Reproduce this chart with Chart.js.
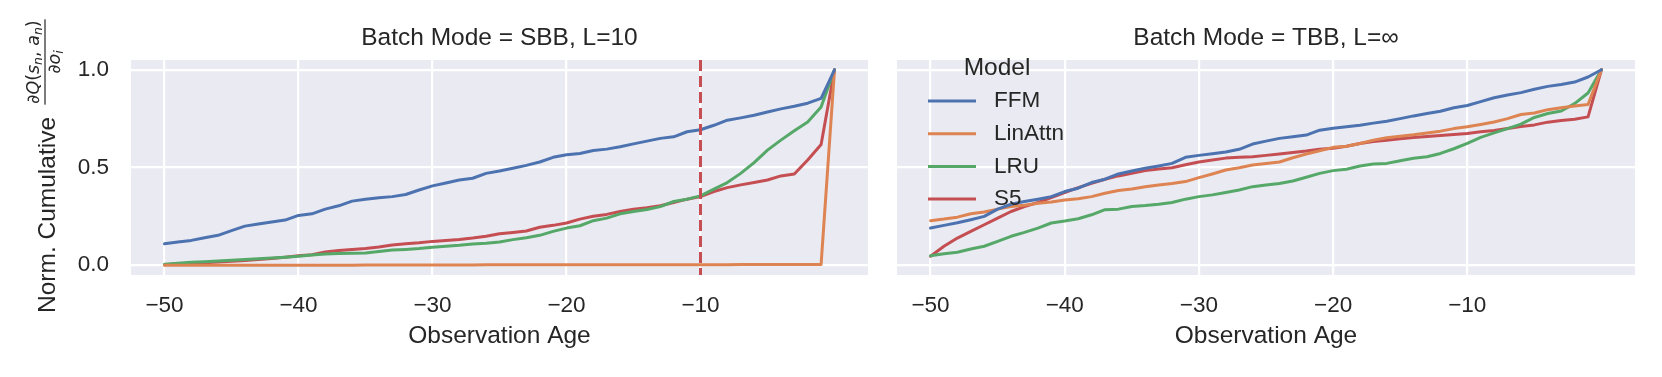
<!DOCTYPE html>
<html>
<head>
<meta charset="utf-8">
<script src="https://cdn.jsdelivr.net/npm/chart.js@4/dist/chart.umd.min.js"></script>
<style>
  html, body { margin: 0; padding: 0; background: #fff; }
  #wrap { position: relative; width: 1662px; height: 377px; }
  #sbb { position: absolute; left: 0; top: 0; }
  #tbb { position: absolute; left: 880px; top: 0; }
</style>
</head>
<body>
<div id="wrap">
  <canvas id="sbb" width="880" height="377"></canvas>
  <canvas id="tbb" width="782" height="377"></canvas>
</div>
<script>
// --- data ---
const ages = [-50, -49, -48, -47, -46, -45, -44, -43, -42, -41, -40, -39, -38, -37, -36, -35, -34,
  -33, -32, -31, -30, -29, -28, -27, -26, -25, -24, -23, -22, -21, -20, -19, -18, -17, -16, -15,
  -14, -13, -12, -11, -10, -9, -8, -7, -6, -5, -4, -3, -2, -1, 0];
const xTicks = [-50, -40, -30, -20, -10];
const yTicks = [0, 0.5, 1];
const models = ['FFM', 'LinAttn', 'LRU', 'S5'];
const sbbCutoff = -10; // L=10

// Batch Mode = SBB, L=10
const sbbFFM = [0.110, 0.119, 0.127, 0.141, 0.153, 0.177, 0.200, 0.211, 0.221, 0.231, 0.255, 0.263,
  0.287, 0.304, 0.328, 0.338, 0.345, 0.351, 0.362, 0.385, 0.406, 0.421, 0.436, 0.445, 0.470, 0.482,
  0.496, 0.511, 0.528, 0.552, 0.565, 0.572, 0.587, 0.594, 0.606, 0.621, 0.635, 0.649, 0.657, 0.683,
  0.693, 0.716, 0.742, 0.754, 0.767, 0.784, 0.800, 0.813, 0.829, 0.854, 1.000];
const sbbLinAttn = [0.000, 0.000, 0.000, 0.000, 0.000, 0.000, 0.000, 0.000, 0.000, 0.000, 0.000,
  0.000, 0.000, 0.000, 0.000, 0.001, 0.001, 0.001, 0.001, 0.001, 0.001, 0.001, 0.001, 0.001, 0.002,
  0.002, 0.002, 0.002, 0.002, 0.002, 0.002, 0.002, 0.002, 0.002, 0.003, 0.003, 0.003, 0.003, 0.003,
  0.003, 0.003, 0.003, 0.003, 0.004, 0.004, 0.004, 0.004, 0.004, 0.004, 0.004, 1.000];
const sbbLRU = [0.005, 0.010, 0.015, 0.018, 0.022, 0.025, 0.029, 0.033, 0.037, 0.041, 0.046, 0.052,
  0.058, 0.060, 0.061, 0.063, 0.070, 0.078, 0.081, 0.085, 0.092, 0.097, 0.102, 0.109, 0.112, 0.119,
  0.131, 0.141, 0.153, 0.173, 0.190, 0.202, 0.228, 0.241, 0.263, 0.275, 0.285, 0.300, 0.326, 0.338,
  0.355, 0.389, 0.423, 0.470, 0.525, 0.589, 0.640, 0.688, 0.733, 0.810, 1.000];
const sbbS5 = [0.003, 0.007, 0.010, 0.013, 0.017, 0.020, 0.024, 0.029, 0.034, 0.041, 0.048, 0.054,
  0.068, 0.075, 0.081, 0.085, 0.093, 0.104, 0.110, 0.115, 0.122, 0.127, 0.132, 0.139, 0.148, 0.161,
  0.168, 0.175, 0.194, 0.204, 0.216, 0.236, 0.251, 0.260, 0.275, 0.287, 0.294, 0.304, 0.321, 0.338,
  0.351, 0.377, 0.397, 0.411, 0.423, 0.436, 0.457, 0.467, 0.538, 0.618, 1.000];

// Batch Mode = TBB, L=inf
const tbbFFM = [0.190, 0.204, 0.217, 0.233, 0.250, 0.287, 0.312, 0.326, 0.338, 0.351, 0.377, 0.394,
  0.423, 0.440, 0.467, 0.482, 0.496, 0.508, 0.521, 0.552, 0.562, 0.570, 0.579, 0.593, 0.620, 0.635,
  0.649, 0.657, 0.666, 0.691, 0.701, 0.708, 0.716, 0.727, 0.737, 0.750, 0.764, 0.776, 0.788, 0.806,
  0.817, 0.837, 0.857, 0.871, 0.883, 0.900, 0.915, 0.925, 0.937, 0.963, 1.000];
const tbbLinAttn = [0.228, 0.236, 0.246, 0.263, 0.272, 0.287, 0.300, 0.307, 0.317, 0.323, 0.334,
  0.340, 0.351, 0.368, 0.382, 0.390, 0.402, 0.411, 0.418, 0.428, 0.448, 0.467, 0.487, 0.499, 0.513,
  0.520, 0.528, 0.550, 0.569, 0.586, 0.603, 0.609, 0.623, 0.640, 0.652, 0.660, 0.667, 0.676, 0.686,
  0.699, 0.708, 0.720, 0.733, 0.750, 0.771, 0.779, 0.796, 0.806, 0.815, 0.822, 1.000];
const tbbLRU = [0.049, 0.059, 0.066, 0.083, 0.097, 0.122, 0.148, 0.168, 0.190, 0.216, 0.226, 0.238,
  0.258, 0.284, 0.287, 0.300, 0.305, 0.312, 0.321, 0.338, 0.351, 0.360, 0.372, 0.385, 0.402, 0.411,
  0.418, 0.431, 0.450, 0.470, 0.484, 0.491, 0.508, 0.518, 0.521, 0.535, 0.547, 0.555, 0.572, 0.596,
  0.623, 0.654, 0.677, 0.699, 0.722, 0.756, 0.776, 0.789, 0.827, 0.881, 1.000];
const tbbS5 = [0.046, 0.097, 0.139, 0.173, 0.207, 0.241, 0.275, 0.300, 0.321, 0.346, 0.372, 0.397,
  0.419, 0.440, 0.457, 0.470, 0.484, 0.492, 0.499, 0.514, 0.528, 0.538, 0.548, 0.552, 0.555, 0.562,
  0.569, 0.577, 0.584, 0.593, 0.599, 0.609, 0.623, 0.633, 0.640, 0.647, 0.654, 0.659, 0.664, 0.669,
  0.674, 0.683, 0.689, 0.699, 0.710, 0.718, 0.732, 0.740, 0.747, 0.759, 1.000];

// --- styles ---
const FONT = '"Liberation Sans", Arial, Helvetica, sans-serif';
const MATH = '"DejaVu Sans", sans-serif';
const TEXT = '#262626';
const colors = ['#4c72b0', '#dd8452', '#55a868', '#c44e52'];
Chart.defaults.font.family = FONT;
Chart.defaults.color = TEXT;

const ageLabel = v => (v < 0 ? '\u2212' + Math.abs(v) : String(v));

// grey plot area like seaborn darkgrid
const bgPlugin = {
  id: 'bg',
  beforeDraw(chart) {
    const a = chart.chartArea, ctx = chart.ctx;
    ctx.save();
    ctx.fillStyle = '#eaeaf2';
    ctx.fillRect(a.left, a.top, a.right - a.left, a.bottom - a.top);
    ctx.restore();
  }
};

// dashed line at the context length
const cutoffPlugin = {
  id: 'cutoff',
  afterDatasetsDraw(chart) {
    const a = chart.chartArea, ctx = chart.ctx;
    const x = chart.scales.x.getPixelForValue(sbbCutoff);
    ctx.save();
    ctx.strokeStyle = colors[3];
    ctx.lineWidth = 3;
    ctx.setLineDash([11, 5]);
    ctx.beginPath();
    ctx.moveTo(x, a.top);
    ctx.lineTo(x, a.bottom);
    ctx.stroke();
    ctx.restore();
  }
};

// y title: "Norm. Cumulative" + d Q(s_n, a_n) / d o_i
function drawRuns(ctx, runs, u, v) {
  let w = 0;
  runs.forEach(r => { ctx.font = r.font; w += ctx.measureText(r.text).width; });
  let x = u - w / 2;
  runs.forEach(r => {
    ctx.font = r.font;
    ctx.fillText(r.text, x, v + (r.dy || 0));
    x += ctx.measureText(r.text).width;
  });
  return w;
}
const yTitlePlugin = {
  id: 'ytitle',
  afterDraw(chart) {
    const ctx = chart.ctx;
    const up = '17.5px ' + MATH, it = 'italic 17.5px ' + MATH, sub = 'italic 12.5px ' + MATH;
    ctx.save();
    ctx.translate(55, 313);
    ctx.rotate(-Math.PI / 2);
    ctx.fillStyle = TEXT;
    ctx.textBaseline = 'alphabetic';
    ctx.textAlign = 'left';
    ctx.font = '24.5px ' + FONT;
    ctx.fillText('Norm. Cumulative', 0, 0);
    const c = 251;
    const wNum = drawRuns(ctx, [
      { text: '\u2202', font: up }, { text: 'Q', font: it }, { text: '(', font: up },
      { text: 's', font: it }, { text: 'n', font: sub, dy: 3 }, { text: ', ', font: up },
      { text: 'a', font: it }, { text: 'n', font: sub, dy: 3 }, { text: ')', font: up }
    ], c, -16);
    drawRuns(ctx, [
      { text: '\u2202', font: up }, { text: 'o', font: it }, { text: 'i', font: sub, dy: 3 }
    ], c, 5);
    ctx.fillRect(c - wNum / 2 - 1, -10.6, wNum + 2, 1.2);
    ctx.restore();
  }
};

// legend drawn inside the right panel, no frame
const legendPlugin = {
  id: 'modelLegend',
  afterDatasetsDraw(chart) {
    const a = chart.chartArea, ctx = chart.ctx;
    ctx.save();
    ctx.fillStyle = TEXT;
    ctx.textBaseline = 'middle';
    ctx.textAlign = 'center';
    ctx.font = '24.5px ' + FONT;
    ctx.fillText('Model', a.left + 100, a.top + 8);
    ctx.textAlign = 'left';
    ctx.font = '22.5px ' + FONT;
    chart.data.datasets.forEach((ds, i) => {
      const y = a.top + 41 + i * 32.7;
      ctx.strokeStyle = ds.borderColor;
      ctx.lineWidth = 3;
      ctx.beginPath();
      ctx.moveTo(a.left + 31, y);
      ctx.lineTo(a.left + 79, y);
      ctx.stroke();
      ctx.fillText(ds.label, a.left + 97, y);
    });
    ctx.restore();
  }
};

function makeChart(id, title, series, opt) {
  return new Chart(document.getElementById(id), {
    type: 'line',
    data: {
      datasets: models.map((m, i) => ({
        label: m,
        data: ages.map((a, j) => ({ x: a, y: series[i][j] })),
        borderColor: colors[i],
        backgroundColor: colors[i],
        borderWidth: 3,
        pointRadius: 0,
        tension: 0,
        borderJoinStyle: 'round',
        borderCapStyle: 'round'
      }))
    },
    plugins: [bgPlugin].concat(opt.plugins),
    options: {
      responsive: false,
      animation: false,
      events: [],
      layout: { padding: { left: 0, right: opt.padRight, top: 0, bottom: 0 } },
      scales: {
        x: {
          type: 'linear', min: -52.5, max: 2.5,
          afterBuildTicks: s => { s.ticks = xTicks.map(v => ({ value: v })); },
          afterFit: s => { s.height = 102; },
          grid: { color: '#ffffff', lineWidth: 2.2, drawTicks: false },
          border: { display: false },
          ticks: { padding: 17, maxRotation: 0, autoSkip: false, color: TEXT,
                   font: { size: 22.5 }, callback: v => ageLabel(v) },
          title: { display: true, text: 'Observation Age', color: TEXT,
                   font: { size: 24.5 }, padding: { top: 0, bottom: 26.5 } }
        },
        y: {
          min: -0.05, max: 1.05,
          afterBuildTicks: s => { s.ticks = yTicks.map(v => ({ value: v })); },
          afterFit: s => { s.width = opt.yWidth; },
          grid: { color: '#ffffff', lineWidth: 2.2, drawTicks: false },
          border: { display: false },
          ticks: { display: opt.showY, padding: 22, color: TEXT,
                   font: { size: 22.5 }, callback: v => v.toFixed(1) }
        }
      },
      plugins: {
        legend: { display: false },
        tooltip: { enabled: false },
        title: { display: true, fullSize: false, text: title, color: TEXT,
                 font: { size: 24.5, weight: 'normal' }, padding: { top: 24, bottom: 6.6 } }
      }
    }
  });
}

makeChart('sbb', 'Batch Mode = SBB, L=10', [sbbFFM, sbbLinAttn, sbbLRU, sbbS5],
  { yWidth: 131, padRight: 12, showY: true, plugins: [cutoffPlugin, yTitlePlugin] });
makeChart('tbb', 'Batch Mode = TBB, L=\u221e', [tbbFFM, tbbLinAttn, tbbLRU, tbbS5],
  { yWidth: 17, padRight: 27, showY: false, plugins: [legendPlugin] });
</script>
</body>
</html>
